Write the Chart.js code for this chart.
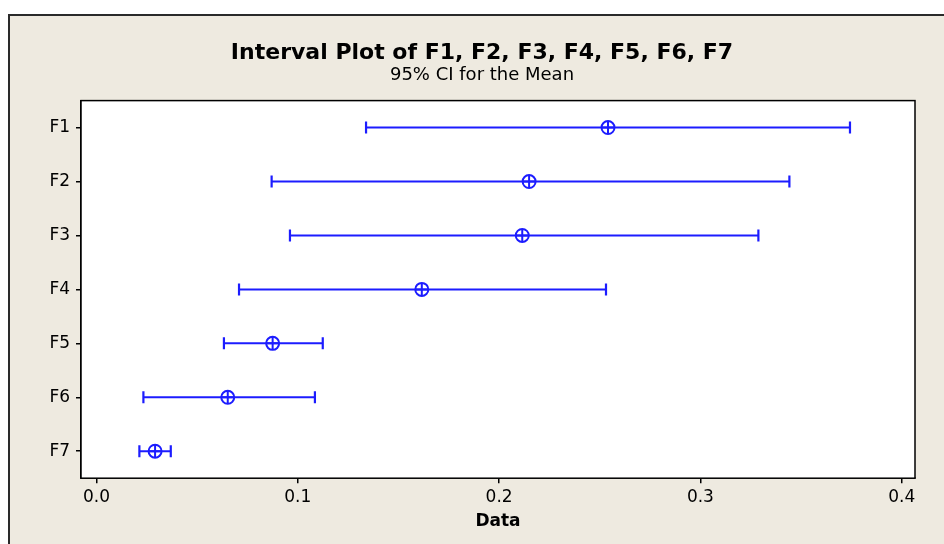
<!DOCTYPE html>
<html>
<head>
<meta charset="utf-8">
<script src="https://cdn.jsdelivr.net/npm/chart.js@4/dist/chart.umd.min.js"></script>
<style>
    html, body { margin: 0; padding: 0; background: #ffffff; }
    body { width: 944px; height: 544px; position: relative; overflow: hidden; }
    .frame {
        position: absolute; left: 8px; top: 14px; right: 0; bottom: 0;
        background: #eeeae0;
        border-top: 2px solid #2a2a2a;
        border-left: 2px solid #2a2a2a;
    }
    #intervalChart { position: absolute; left: 0; top: 0; }
</style>
</head>
<body>
<div class="frame"></div>
<canvas id="intervalChart" width="944" height="544"></canvas>
<script>
// values
var categories = ['F1', 'F2', 'F3', 'F4', 'F5', 'F6', 'F7'];
var means = [0.2541, 0.2149, 0.2115, 0.1616, 0.0875, 0.0652, 0.0291];
var lowerCI = [0.1339, 0.0870, 0.0961, 0.0708, 0.0633, 0.0233, 0.0213];
var upperCI = [0.3743, 0.3442, 0.3288, 0.2531, 0.1124, 0.1085, 0.0369];
var xTicks = [0.0, 0.1, 0.2, 0.3, 0.4];

var blue = '#1c1cff';

document.addEventListener('DOMContentLoaded', function () {
    var ctx = document.getElementById('intervalChart').getContext('2d');

    var datasets = [];
    // one small line per interval, caps drawn as rotated 'line' points
    categories.forEach(function (c, i) {
        datasets.push({
            data: [{ x: lowerCI[i], y: c }, { x: upperCI[i], y: c }],
            borderColor: blue,
            borderWidth: 2,
            pointStyle: 'line',
            pointRotation: 90,
            pointRadius: 6,
            pointBorderWidth: 2.2,
            pointBorderColor: blue
        });
    });
    // mean symbol: circle with a cross
    datasets.push({
        data: categories.map(function (c, i) { return { x: means[i], y: c }; }),
        showLine: false,
        pointStyle: 'circle',
        pointRadius: 6.5,
        pointBorderWidth: 2,
        pointBorderColor: blue,
        pointBackgroundColor: 'rgba(0,0,0,0)'
    });
    datasets.push({
        data: categories.map(function (c, i) { return { x: means[i], y: c }; }),
        showLine: false,
        pointStyle: 'cross',
        pointRadius: 6.5,
        pointBorderWidth: 2,
        pointBorderColor: blue
    });

    var plotBox = {
        id: 'plotBox',
        beforeDatasetsDraw: function (chart) {
            var a = chart.chartArea, c = chart.ctx;
            c.save();
            c.fillStyle = '#ffffff';
            c.fillRect(a.left, a.top, a.right - a.left, a.bottom - a.top);
            c.restore();
        },
        afterDraw: function (chart) {
            var a = chart.chartArea, c = chart.ctx;
            c.save();
            c.strokeStyle = '#000000';
            c.lineWidth = 1.5;
            c.strokeRect(a.left, a.top, a.right - a.left, a.bottom - a.top);
            c.restore();
        }
    };

    new Chart(ctx, {
        type: 'line',
        data: { labels: categories, datasets: datasets },
        plugins: [plotBox],
        options: {
            responsive: false,
            animation: false,
            layout: { padding: { left: 49, right: 29, top: 0, bottom: 8 } },
            plugins: {
                legend: { display: false },
                tooltip: { enabled: false },
                title: {
                    display: true,
                    text: 'Interval Plot of F1, F2, F3, F4, F5, F6, F7',
                    color: '#000000',
                    font: { family: 'DejaVu Sans', size: 22, weight: 'bold', lineHeight: 1 },
                    padding: { top: 42, bottom: 0 }
                },
                subtitle: {
                    display: true,
                    text: '95% CI for the Mean',
                    color: '#000000',
                    font: { family: 'DejaVu Sans', size: 18, lineHeight: 1.2 },
                    padding: { top: 1, bottom: 14 }
                }
            },
            scales: {
                x: {
                    type: 'linear',
                    min: -0.0077,
                    max: 0.4066,
                    afterBuildTicks: function (scale) {
                        scale.ticks = xTicks.map(function (v) { return { value: v }; });
                    },
                    ticks: {
                        color: '#000000',
                        padding: 4,
                        font: { family: 'DejaVu Sans', size: 17 },
                        callback: function (v) { return Number(v).toFixed(1); }
                    },
                    grid: { drawOnChartArea: false, drawTicks: true, tickLength: 5, color: '#000000', lineWidth: 1.5 },
                    border: { display: true, color: '#000000', width: 1.5 },
                    title: {
                        display: true,
                        text: 'Data',
                        color: '#000000',
                        font: { family: 'DejaVu Sans', size: 17, weight: 'bold' },
                        padding: { top: 0, bottom: 4 }
                    }
                },
                y: {
                    type: 'category',
                    labels: categories,
                    offset: true,
                    afterFit: function (scale) { scale.width = 32; },
                    ticks: {
                        color: '#000000',
                        padding: 6,
                        font: { family: 'DejaVu Sans', size: 17 }
                    },
                    grid: { drawOnChartArea: false, drawTicks: true, tickLength: 5, color: '#000000', lineWidth: 1.5, offset: false },
                    border: { display: true, color: '#000000', width: 1.5 }
                }
            }
        }
    });
});
</script>
</body>
</html>
